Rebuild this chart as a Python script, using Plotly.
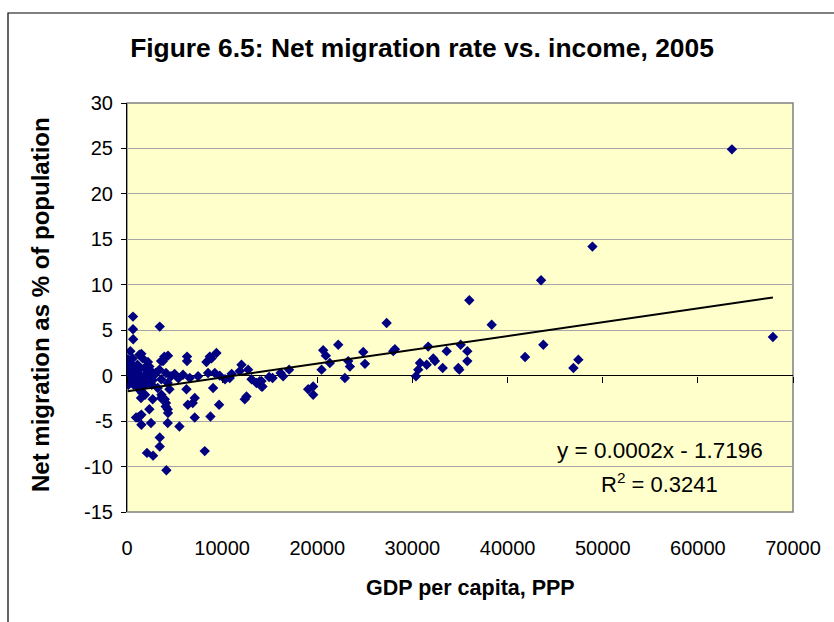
import plotly.graph_objects as go

# ---- data ----
gdp_per_capita = [
    632, 632, 650, 356, 105, 1510, 3440,
    1300, 1650, 600, 3930, 3580, 4310, 3790,
    2350, 1830, 2520, 3400, 250, 75, 780, 1300, 1830, 2880, 4100, 4630,
    420, 1130, 2180, 4280, 3230, 4460, 1340, 1600, 1900,
    200, 500, 900, 1000, 1500, 2000, 2500, 700, 1100, 300, 1700, 2200,
    2700, 3000, 3600, 1200, 800, 500, 1400, 2600,
    1470, 2700, 3580, 4100, 4280, 2350, 1300, 950, 2520, 4280, 5510, 6390,
    6910, 1510, 3620, 3970, 4070, 4310, 3440, 3440, 2100, 2740, 8170, 4140,
    1160, 1510,
    6310, 6310, 9400, 8880, 8350, 8700, 5890, 6600, 7470, 8520, 9230, 9750,
    10800, 12030, 11850, 12730, 13090, 13610, 14140, 6250, 9050, 7120, 12560,
    9680, 8770, 7120, 12380, 14140, 14940, 5000, 5400, 11000, 10300,
    13960, 14240, 15300, 16140, 16410, 17040, 19040, 19570, 19570, 20620,
    22200, 20900, 21320, 20450, 22900, 23250, 23430, 24830, 25010, 27290,
    28160, 27980,
    30370, 30610, 30790, 31500, 31660, 32190, 32370, 33180, 33600, 34820,
    34930, 35070, 35770, 35770, 35980, 38330, 41840, 43760, 43520, 46920,
    47440, 48920, 63580, 67890,
    150, 120, 350, 180,
]
net_migration = [
    6.5, 5.1, 4.0, 2.7, 1.8, 2.4, 5.4,
    2.3, 1.9, 1.9, 2.1, 1.6, 2.2, 1.6,
    1.0, 0.85, 0.5, 0.66, 0.66, 0.1, -0.07, 0.1, -0.25, 0.1, 0.3, -0.07,
    -0.6, -0.8, -0.8, -0.8, -1.35, -1.5, -1.6, -1.9, -2.1,
    -0.3, 0.3, 0.5, -0.4, -0.5, 0.2, -0.3, -1.0, 1.2, -0.2, -1.2, 1.5,
    -0.5, 0.3, -0.4, -1.3, 1.0, -0.5, 0.8, -1.0,
    -2.45, -2.6, -2.45, -3.0, -3.7, -3.7, -4.5, -4.6, -5.2, -5.2, -5.6, -3.2,
    -3.0, -5.4, -2.1, -2.6, -3.4, -4.1, -6.8, -7.8, -8.5, -8.8, -8.3, -10.4,
    -4.6, -4.3,
    2.1, 1.6, 2.5, 1.9, 1.5, 2.1, 0.1, -0.25, -0.07, 0.3, 0.3, 0.0,
    -0.25, 1.2, 0.5, 0.66, -0.4, -0.8, -0.6, -1.5, -1.35, -2.45, -2.3,
    -3.2, -4.5, -4.6, -2.6, -1.2, -0.15, 0.2, -0.3, 0.2, -0.4,
    -0.6, -1.2, -0.25, 0.3, -0.07, 0.66, -1.5, -1.2, -2.1, 2.8,
    3.4, 2.2, 1.4, 0.66, -0.25, 1.6, 1.0, 2.6, 1.3, 5.8,
    2.9, 2.7,
    -0.07, 0.66, 1.4, 1.2, 3.2, 1.9, 1.6, 0.85, 2.7, 0.85,
    0.66, 3.4, 2.7, 1.6, 8.3, 5.6, 2.05, 3.4, 10.5, 0.85,
    1.76, 14.2, 24.9, 4.25,
    -1.0, 0.8, 1.3, -0.1,
]

# axis ticks
x_tick_values = [0, 10000, 20000, 30000, 40000, 50000, 60000, 70000]
x_tick_labels = ["0", "10000", "20000", "30000", "40000", "50000", "60000", "70000"]
y_tick_values = [-15, -10, -5, 0, 5, 10, 15, 20, 25, 30]
y_tick_labels = ["-15", "-10", "-5", "0", "5", "10", "15", "20", "25", "30"]

# linear trend as drawn in the picture
trend_slope = 0.000152
trend_intercept = -1.7196
equation_text = "y = 0.0002x - 1.7196"
r2_text = "R<sup>2</sup> = 0.3241"

title_text = "Figure 6.5: Net migration rate vs. income, 2005"
x_title = "GDP per capita, PPP"
y_title = "Net migration as % of population"

FONT = "Arial, Liberation Sans, sans-serif"

trend_x = [min(gdp_per_capita), max(gdp_per_capita)]
trend_y = [trend_slope * v + trend_intercept for v in trend_x]

fig = go.Figure()
fig.add_trace(go.Scatter(
    x=gdp_per_capita, y=net_migration, mode="markers",
    marker=dict(symbol="diamond", size=8, color="#000080", line=dict(width=0)),
    showlegend=False, hoverinfo="x+y",
))
fig.add_trace(go.Scatter(
    x=trend_x, y=trend_y, mode="lines",
    line=dict(color="black", width=2), showlegend=False, hoverinfo="skip",
))
# helper trace for the tick marks on the x axis line at y = 0
fig.add_trace(go.Scatter(x=[None], y=[None], xaxis="x2", showlegend=False, hoverinfo="skip"))

L, R, T, B = 127, 41, 103, 110
PW, PH = 834 - L - R, 622 - T - B


def px_x(px):
    return (px - L) / PW


def px_y(py):
    return (622 - B - py) / PH


fig.update_layout(
    width=834, height=622,
    paper_bgcolor="white", plot_bgcolor="#FFFFCC",
    margin=dict(l=L, r=R, t=T, b=B),
    font=dict(family=FONT, color="black", size=20),
    title=dict(text="<b>" + title_text + "</b>", x=0.506, xanchor="center",
               y=1 - 48 / 622, yanchor="middle", yref="container",
               font=dict(family=FONT, size=26.4, color="black")),
    xaxis=dict(range=[0, 70000], tickvals=x_tick_values, ticktext=x_tick_labels,
               showgrid=False, zeroline=False, showline=False, ticks="",
               ticklabelstandoff=22, tickfont=dict(size=20)),
    xaxis2=dict(range=[0, 70000], tickvals=x_tick_values, overlaying="x",
                anchor="free", position=1 / 3, side="bottom",
                showgrid=False, zeroline=False, showline=False,
                ticks="outside", ticklen=6, tickcolor="black", tickwidth=1,
                showticklabels=False),
    yaxis=dict(range=[-15, 30], tickvals=y_tick_values, ticktext=y_tick_labels,
               showgrid=True, gridcolor="#A6A6A6", gridwidth=1,
               zeroline=True, zerolinecolor="black", zerolinewidth=1.2,
               showline=True, linecolor="black", linewidth=1.2,
               ticks="outside", ticklen=5, tickcolor="black",
               ticklabelstandoff=4, tickfont=dict(size=20)),
    shapes=[
        dict(type="rect", xref="paper", yref="paper", x0=0, x1=1, y0=0, y1=1,
             line=dict(color="#808080", width=1.5), layer="below"),
        dict(type="rect", xref="paper", yref="paper",
             x0=px_x(8), x1=px_x(860), y0=px_y(650), y1=px_y(13),
             line=dict(color="black", width=1.2), layer="below"),
    ],
    annotations=[
        dict(text="<b>" + x_title + "</b>", xref="paper", yref="paper",
             x=px_x(470), y=px_y(588), showarrow=False,
             xanchor="center", yanchor="middle",
             font=dict(family=FONT, size=21.5, color="black")),
        dict(text="<b>" + y_title + "</b>", xref="paper", yref="paper",
             x=px_x(40), y=px_y(305), showarrow=False,
             textangle=-90, xanchor="center", yanchor="middle",
             font=dict(family=FONT, size=24, color="black")),
        dict(text=equation_text, xref="paper", yref="paper",
             x=px_x(660), y=px_y(450), showarrow=False,
             xanchor="center", yanchor="middle",
             font=dict(family=FONT, size=22.5, color="black")),
        dict(text=r2_text, xref="paper", yref="paper",
             x=px_x(659), y=px_y(483), showarrow=False,
             xanchor="center", yanchor="middle",
             font=dict(family=FONT, size=22, color="black")),
    ],
)

fig.write_html("out.html", config={"displayModeBar": False},
               post_script="document.body.style.margin='0';")
